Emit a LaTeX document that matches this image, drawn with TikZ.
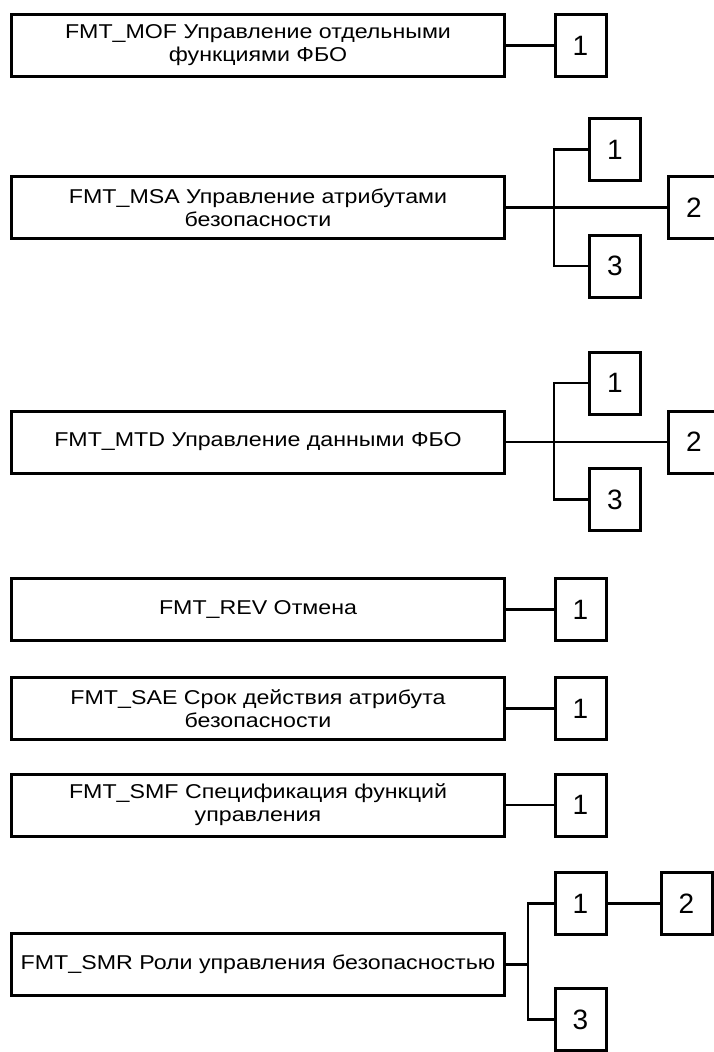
\documentclass[tikz,border=0pt]{standalone}
\usepackage{fontspec}
\setmainfont{Liberation Sans}
\newfontfamily\boxfont[FakeStretch=1.16]{Liberation Sans}
\begin{document}
\begin{tikzpicture}[x=1pt,y=-1pt,
  mainbox/.style={draw, line width=3pt, minimum width=493pt, minimum height=62pt, inner sep=0pt, align=center, font=\boxfont\fontsize{20}{23}\selectfont},
  numbox/.style={draw, line width=3pt, minimum width=51pt, minimum height=62pt, inner sep=0pt, font=\fontsize{28}{30}\selectfont},
  link/.style={line width=2.7pt}]
\useasboundingbox (0,0) rectangle (713,1052);
\fill[white] (0,0) rectangle (713,1052);

% FMT_MOF
\node[mainbox] (mof) at (258,45.5) {FMT\_MOF Управление отдельными\\функциями ФБО};
\node[numbox] (mof1) at (580.5,45.5) {1};
\draw[link] (mof.east) -- (mof1.west);

% FMT_MSA
\node[mainbox] (msa) at (258,207.5) {FMT\_MSA Управление атрибутами\\безопасности};
\node[numbox] (msa1) at (615,149.5) {1};
\node[numbox] (msa2) at (694,207.5) {2};
\node[numbox] (msa3) at (615,266) {3};
\coordinate (msaT) at (554,207.5);
\draw[link] (msa.east) -- (msa2.west);
\draw[link] (msa1.west) -| (msaT) |- (msa3.west);

% FMT_MTD
\node[mainbox] (mtd) at (258,442) {FMT\_MTD Управление данными ФБО};
\node[numbox] (mtd1) at (615,383) {1};
\node[numbox] (mtd2) at (694,442) {2};
\node[numbox] (mtd3) at (615,499.5) {3};
\coordinate (mtdT) at (554,442);
\draw[link] (mtd.east) -- (mtd2.west);
\draw[link] (mtd1.west) -| (mtdT) |- (mtd3.west);

% FMT_REV
\node[mainbox] (rev) at (258,609.5) {FMT\_REV Отмена};
\node[numbox] (rev1) at (580.5,609.5) {1};
\draw[link] (rev.east) -- (rev1.west);

% FMT_SAE
\node[mainbox] (sae) at (258,708.5) {FMT\_SAE Срок действия атрибута\\безопасности};
\node[numbox] (sae1) at (580.5,708.5) {1};
\draw[link] (sae.east) -- (sae1.west);

% FMT_SMF
\node[mainbox] (smf) at (258,805) {FMT\_SMF Спецификация функций\\управления};
\node[numbox] (smf1) at (580.5,805) {1};
\draw[link] (smf.east) -- (smf1.west);

% FMT_SMR
\node[mainbox] (smr) at (258,964.5) {FMT\_SMR Роли управления безопасностью};
\node[numbox] (smr1) at (580.5,903.5) {1};
\node[numbox] (smr2) at (686.5,903.5) {2};
\node[numbox] (smr3) at (580.5,1019.5) {3};
\coordinate (smrT) at (528,964.5);
\draw[link] (smr.east) -- (smrT);
\draw[link] (smr1.west) -| (smrT) |- (smr3.west);
\draw[link] (smr1.east) -- (smr2.west);
\end{tikzpicture}
\end{document}
